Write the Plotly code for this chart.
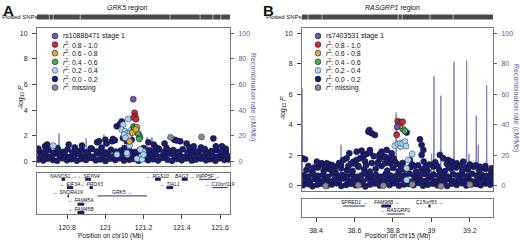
import plotly.graph_objects as go

# ---------------- DATA ----------------
# Panel A (GRK5 region, chr10, Mb) -- navy r2 0.0-0.2 SNPs
a_navy_x = [120.650, 120.676, 120.699, 120.726, 120.748, 120.777, 120.800, 120.824, 120.851, 120.874,
            120.899, 120.926, 120.950, 120.973, 121.001, 121.024, 121.052, 121.075, 121.098, 121.126,
            121.151, 121.174, 121.202, 121.224, 121.250, 121.276, 121.299, 121.326, 121.349, 121.377,
            121.400, 121.425, 121.452, 121.474, 121.500, 121.527, 121.549, 121.576, 121.600, 121.623, 121.646,
            120.662, 120.688, 120.712, 120.737, 120.763, 120.788, 120.812, 120.838, 120.862, 120.887,
            120.913, 120.937, 120.962, 120.988, 121.012, 121.037, 121.063, 121.087, 121.112, 121.138,
            121.163, 121.188, 121.212, 121.237, 121.263, 121.288, 121.313, 121.337, 121.362, 121.388,
            121.413, 121.438, 121.463, 121.487, 121.512, 121.538, 121.562, 121.588, 121.612, 121.637,
            120.652, 120.680, 120.703, 120.729, 120.755, 120.781, 120.803, 120.829, 120.855, 120.878,
            120.905, 120.930, 120.955, 120.980, 121.004, 121.030, 121.056, 121.080, 121.104, 121.130,
            121.155, 121.180, 121.205, 121.230, 121.255, 121.280, 121.305, 121.330, 121.355, 121.380,
            121.405, 121.430, 121.455, 121.480, 121.505, 121.530, 121.555, 121.580, 121.605, 121.630,
            120.650, 120.685, 120.696, 120.750, 120.809, 120.840, 120.878, 120.924, 120.957, 120.967,
            120.980, 121.000, 121.007, 121.035, 121.040, 121.050, 121.060, 121.077, 121.086, 121.092,
            121.100, 121.112, 121.138, 121.200, 121.225, 121.253, 121.265, 121.280, 121.310, 121.320,
            121.360, 121.373, 121.392, 121.425, 121.440, 121.462, 121.500, 121.520, 121.565, 121.578,
            121.610, 121.630]
a_navy_y = [0.15, 0.08, 0.22, 0.12, 0.05, 0.25, 0.10, 0.18, 0.06, 0.20,
            0.12, 0.28, 0.09, 0.16, 0.04, 0.21, 0.11, 0.26, 0.07, 0.14,
            0.19, 0.05, 0.23, 0.10, 0.17, 0.08, 0.27, 0.13, 0.06, 0.20,
            0.10, 0.24, 0.07, 0.15, 0.22, 0.09, 0.18, 0.05, 0.25, 0.12, 0.16,
            0.45, 0.52, 0.38, 0.60, 0.42, 0.55, 0.35, 0.48, 0.58, 0.40,
            0.50, 0.37, 0.62, 0.44, 0.53, 0.39, 0.57, 0.46, 0.36, 0.51,
            0.43, 0.59, 0.41, 0.49, 0.55, 0.38, 0.47, 0.60, 0.42, 0.54,
            0.36, 0.50, 0.45, 0.58, 0.40, 0.52, 0.44, 0.37, 0.56, 0.48,
            0.80, 0.72, 0.90, 0.68, 0.85, 0.75, 0.95, 0.70, 0.82, 0.88,
            0.73, 0.98, 0.78, 0.86, 0.70, 0.92, 0.76, 0.84, 0.69, 0.80,
            0.74, 0.90, 0.71, 0.87, 0.79, 0.94, 0.72, 0.83, 0.89, 0.75,
            0.96, 0.70, 0.85, 0.78, 0.91, 0.73, 0.82, 0.88, 0.76, 0.84,
            1.00, 1.19, 1.32, 1.05, 1.32, 1.10, 1.24, 1.03, 1.50, 1.58,
            1.10, 1.70, 1.40, 1.58, 1.76, 1.65, 2.74, 2.92, 3.12, 1.83,
            1.05, 1.58, 1.70, 1.05, 1.50, 1.32, 1.10, 1.00, 1.40, 1.05,
            1.70, 1.63, 1.57, 1.40, 1.10, 1.19, 1.10, 0.98, 1.80, 1.19,
            1.19, 1.00]
a_lblue_x = [121.120, 121.094, 121.086, 121.103, 121.112, 121.129, 121.138, 121.098, 121.120, 121.105,
             121.198, 121.190, 121.115, 121.061, 121.113, 121.127, 121.166, 121.192, 121.200, 121.183, 120.728]
a_lblue_y = [3.31, 2.87, 2.48, 2.35, 2.17, 2.22, 2.48, 2.09, 1.96, 1.85,
             0.80, 0.41, 0.54, 0.54, 0.67, 1.24, 0.21, 0.16, 0.54, 0.93, 1.24]
a_green_x = [121.148, 121.152, 121.176, 121.181, 121.178, 121.170]
a_green_y = [2.72, 2.60, 2.08, 1.90, 1.76, 2.20]
a_orange_x = [121.165, 121.141, 121.127, 121.160]
a_orange_y = [2.66, 2.25, 1.57, 2.50]
a_red_x = [121.153, 121.156, 121.148, 121.161]
a_red_y = [3.80, 3.55, 3.42, 3.30]
a_grey_x = [121.341, 121.503]
a_grey_y = [1.88, 1.91]
a_index_x = [121.146]
a_index_y = [4.85]
a_recomb_x = [120.643, 120.700, 120.756, 120.758, 120.760, 120.850, 120.898, 120.900, 120.902, 120.960,
              120.991, 120.993, 120.995, 121.100, 121.216, 121.218, 121.220, 121.242, 121.244, 121.246,
              121.400, 121.616, 121.618, 121.620, 121.652]
a_recomb_rate = [1, 2, 1, 22, 1, 2, 1, 18, 1, 1, 2, 21, 1, 2, 1, 19, 1, 1, 19, 1, 2, 1, 12, 1, 1]
a_snp_start = [120.643, 120.708, 120.729, 120.870, 121.340, 121.497, 121.564, 121.606]
a_snp_end = [120.705, 120.726, 120.867, 121.337, 121.494, 121.561, 121.603, 121.652]
a_gene_name = ["NANOS1", "SFXN4", "EIF3A", "PRDX3", "SNORA19", "GRK5", "FAM45A", "FAM45B",
               "RGS10", "BAG3", "INPP5F", "TIAL1", "C10orf119"]
a_gene_start = [120.772, 120.895, 120.800, 120.918, 120.803, 120.960, 120.855, 120.855,
                121.260, 121.400, 121.490, 121.320, 121.560]
a_gene_end = [120.790, 120.925, 120.832, 120.935, 120.810, 121.218, 120.890, 120.890,
              121.290, 121.430, 121.580, 121.355, 121.640]
a_gene_row = [1, 1, 2, 2, 3, 3, 4, 5, 1, 1, 1, 2, 2]
a_gene_strand = ["+", "-", "-", "-", "-", "+", "-", "-", "-", "+", "+", "-", "-"]
a_ticks = [120.8, 121.0, 121.2, 121.4, 121.6]
a_tick_text = ["120.8", "121", "121.2", "121.4", "121.6"]

# Panel B (RASGRP1 region, chr15, Mb)
b_navy_x = [38.332, 38.357, 38.381, 38.407, 38.431, 38.456, 38.482, 38.506, 38.531, 38.557,
            38.581, 38.606, 38.632, 38.656, 38.681, 38.707, 38.731, 38.756, 38.782, 38.806,
            38.831, 38.857, 38.881, 38.906, 38.932, 38.956, 38.981, 39.007, 39.031, 39.056,
            39.082, 39.106, 39.131, 39.157, 39.181, 39.206, 39.232, 39.256, 39.281, 39.306,
            38.345, 38.369, 38.394, 38.419, 38.444, 38.469, 38.494, 38.519, 38.544, 38.569,
            38.594, 38.619, 38.644, 38.669, 38.694, 38.719, 38.744, 38.769, 38.794, 38.819,
            38.844, 38.869, 38.894, 38.919, 38.944, 38.969, 38.994, 39.019, 39.044, 39.069,
            39.094, 39.119, 39.144, 39.169, 39.194, 39.219, 39.244, 39.269, 39.294, 39.316,
            38.336, 38.362, 38.386, 38.411, 38.437, 38.461, 38.486, 38.512, 38.536, 38.561,
            38.587, 38.611, 38.636, 38.662, 38.686, 38.711, 38.737, 38.761, 38.786, 38.812,
            38.836, 38.861, 38.887, 38.911, 38.936, 38.962, 38.986, 39.011, 39.037, 39.061,
            39.086, 39.112, 39.136, 39.161, 39.187, 39.211, 39.236, 39.262, 39.286, 39.311,
            38.350, 38.380, 38.410, 38.440, 38.470, 38.500, 38.530, 38.560, 38.590, 38.620,
            38.650, 38.680, 38.710, 38.740, 38.770, 38.800, 38.830, 38.860, 38.890, 38.920,
            38.950, 38.980, 39.010, 39.040, 39.070, 39.100, 39.130, 39.160, 39.190, 39.220,
            39.250, 39.280, 39.310,
            38.329, 38.343, 38.404, 38.420, 38.430, 38.440, 38.456, 38.470, 38.482, 38.499,
            38.542, 38.559, 38.568, 38.573, 38.594, 38.611, 38.611, 38.629, 38.637, 38.646,
            38.663, 38.680, 38.680, 38.672, 38.677, 38.689, 38.706, 38.741, 38.750, 38.758,
            38.767, 38.776, 38.784, 38.793, 38.802, 38.810, 38.871, 38.888, 38.900, 38.940,
            38.949, 38.958, 38.949, 38.960, 38.930, 39.044, 39.061, 39.087, 39.105, 39.131,
            39.165, 39.200, 39.252, 39.313, 39.080, 39.120, 38.720, 38.600, 38.520, 38.850,
            38.990, 39.020,
            38.360, 38.390, 38.450, 38.490, 38.530, 38.580, 38.620, 38.655, 38.690, 38.730,
            38.760, 38.790, 38.730, 38.700, 38.660, 38.820, 38.840, 38.910, 38.970, 39.030,
            39.090, 39.150, 39.180, 39.230, 39.280]
b_navy_y = [0.05, 0.12, -0.02, 0.08, 0.15, 0.02, 0.10, 0.18, 0.00, 0.07,
            0.14, 0.04, 0.11, -0.03, 0.09, 0.16, 0.03, 0.12, 0.06, 0.17,
            0.01, 0.10, 0.13, 0.05, 0.19, 0.02, 0.08, 0.15, 0.04, 0.11,
            0.00, 0.14, 0.07, 0.18, 0.03, 0.09, 0.12, 0.05, 0.16, 0.08,
            0.38, 0.30, 0.45, 0.33, 0.42, 0.28, 0.40, 0.35, 0.48, 0.31,
            0.44, 0.36, 0.30, 0.47, 0.34, 0.41, 0.29, 0.46, 0.37, 0.32,
            0.43, 0.35, 0.27, 0.45, 0.39, 0.33, 0.48, 0.30, 0.42, 0.36,
            0.44, 0.31, 0.40, 0.34, 0.47, 0.29, 0.41, 0.38, 0.32, 0.44,
            0.70, 0.62, 0.78, 0.66, 0.74, 0.60, 0.80, 0.68, 0.72, 0.64,
            0.76, 0.61, 0.70, 0.79, 0.65, 0.73, 0.60, 0.77, 0.69, 0.63,
            0.75, 0.67, 0.80, 0.62, 0.71, 0.78, 0.64, 0.74, 0.66, 0.70,
            0.61, 0.77, 0.68, 0.73, 0.63, 0.79, 0.67, 0.72, 0.65, 0.75,
            1.05, 0.95, 1.20, 1.00, 1.10, 0.92, 1.15, 1.02, 0.98, 1.25,
            1.08, 0.94, 1.12, 1.30, 1.00, 1.18, 0.96, 1.06, 1.22, 0.93,
            1.10, 1.00, 1.28, 1.04, 0.97, 1.14, 1.20, 0.95, 1.08, 1.25,
            1.02, 1.12, 0.98,
            1.81, 1.75, 1.59, 1.45, 1.48, 1.35, 1.48, 1.40, 1.37, 1.26,
            1.70, 1.81, 1.31, 2.14, 1.59, 1.70, 2.24, 1.81, 2.31, 1.96,
            2.09, 2.35, 2.18, 3.55, 3.66, 3.44, 3.33, 2.24, 1.92, 1.48,
            2.35, 1.81, 1.48, 2.14, 1.81, 1.60, 3.49, 1.70, 1.40, 3.05,
            2.68, 2.35, 2.03, 1.60, 1.35, 2.03, 1.81, 1.70, 1.59, 1.48,
            1.59, 1.40, 1.26, 1.16, 1.45, 1.35, 1.50, 1.45, 1.50, 1.50,
            1.40, 1.55,
            1.30, 1.20, 1.25, 1.15, 1.35, 1.45, 1.30, 1.60, 1.50, 1.75,
            1.90, 1.60, 2.05, 1.95, 1.35, 1.45, 1.30, 1.30, 1.25, 1.30,
            1.25, 1.30, 1.20, 1.35, 1.30]
b_lblue_x = [38.810, 38.826, 38.840, 38.838, 38.850, 38.862, 38.868, 38.900, 38.879, 38.871, 38.871]
b_lblue_y = [2.63, 2.75, 2.57, 2.80, 2.78, 2.90, 2.60, 2.09, 1.70, 1.16, 0.39]
b_green_x = [38.853, 38.862]
b_green_y = [3.70, 3.60]
b_orange_x = [38.824, 38.836]
b_orange_y = [4.24, 3.92]
b_red_x = [38.828, 38.840, 38.850, 38.819]
b_red_y = [4.18, 4.12, 4.20, 3.35]
b_grey_x = [38.450, 38.620, 38.750, 38.900, 39.050, 39.200]
b_grey_y = [0.00, 0.05, 0.02, 0.10, -0.02, 0.08]
b_index_x = [38.822]
b_index_y = [3.86]
b_recomb_x = [38.327, 38.328, 38.330, 38.450, 38.528, 38.530, 38.532, 38.700, 38.814, 38.816,
              38.818, 38.900, 38.999, 39.001, 39.003, 39.011, 39.013, 39.015, 39.047, 39.049,
              39.051, 39.115, 39.117, 39.119, 39.181, 39.183, 39.185, 39.193, 39.195, 39.197,
              39.231, 39.233, 39.235, 39.241, 39.243, 39.245, 39.285, 39.287, 39.289, 39.320]
b_recomb_rate = [64, 64, 1, 2, 1, 27, 1, 2, 1, 48,
                 1, 2, 1, 21, 1, 1, 72, 1, 1, 59,
                 1, 1, 81, 1, 1, 82, 1, 1, 21, 1,
                 1, 46, 1, 1, 27, 1, 1, 66, 1, 1]
b_snp_start = [38.327, 38.360, 38.433, 38.828, 38.849, 38.994, 39.114]
b_snp_end = [38.357, 38.430, 38.825, 38.846, 38.991, 39.111, 39.320]
b_gene_name = ["SPRED1", "FAM98B", "RASGRP1", "C15orf53"]
b_gene_start = [38.540, 38.740, 38.770, 38.985]
b_gene_end = [38.655, 38.790, 38.860, 38.995]
b_gene_row = [1, 1, 2, 1]
b_gene_strand = ["+", "+", "-", "+"]
b_ticks = [38.4, 38.6, 38.8, 39.0, 39.2]
b_tick_text = ["38.4", "38.6", "38.8", "39", "39.2"]

legend_labels = ["{idx} stage 1", "<i>r</i><sup>2</sup>: 0.8 - 1.0", "<i>r</i><sup>2</sup>: 0.6 - 0.8",
                 "<i>r</i><sup>2</sup>: 0.4 - 0.6", "<i>r</i><sup>2</sup>: 0.2 - 0.4",
                 "<i>r</i><sup>2</sup>: 0.0 - 0.2", "<i>r</i><sup>2</sup>: missing"]

# ---------------- STYLE ----------------
W, H = 520, 240
FONT = "Liberation Sans, Arial, sans-serif"
NAVY = "#1c1c6c"
PURPLE = "#7058a8"
RED = "#d42a2a"
ORANGE = "#e9a93a"
GREEN = "#46b04a"
LBLUE = "#acd6ee"
GREY = "#8a8a8a"
EDGE = "#15153a"
RECOMB = "#8080c4"
SLATE = "#5b5ba0"
BOX = "#777777"
legend_colors = [PURPLE, RED, ORANGE, GREEN, LBLUE, NAVY, GREY]


def pxx(x):
    return x / W


def pxy(y):
    return 1 - y / H


fig = go.Figure()

panels = [
    dict(key="A", xa="x", yr="y", yl="y2", xg="x3", yg="y3", xs="x4", ys="y4",
         navy=(a_navy_x, a_navy_y), lblue=(a_lblue_x, a_lblue_y), green=(a_green_x, a_green_y),
         orange=(a_orange_x, a_orange_y), red=(a_red_x, a_red_y), grey=(a_grey_x, a_grey_y),
         index=(a_index_x, a_index_y), recomb=(a_recomb_x, a_recomb_rate),
         snp=(a_snp_start, a_snp_end),
         genes=(a_gene_name, a_gene_start, a_gene_end, a_gene_row, a_gene_strand)),
    dict(key="B", xa="x5", yr="y5", yl="y6", xg="x7", yg="y7", xs="x8", ys="y8",
         navy=(b_navy_x, b_navy_y), lblue=(b_lblue_x, b_lblue_y), green=(b_green_x, b_green_y),
         orange=(b_orange_x, b_orange_y), red=(b_red_x, b_red_y), grey=(b_grey_x, b_grey_y),
         index=(b_index_x, b_index_y), recomb=(b_recomb_x, b_recomb_rate),
         snp=(b_snp_start, b_snp_end),
         genes=(b_gene_name, b_gene_start, b_gene_end, b_gene_row, b_gene_strand)),
]

for p in panels:
    rx, rr = p["recomb"]
    fig.add_trace(go.Scatter(x=rx, y=rr, mode="lines", line=dict(color=RECOMB, width=1),
                             xaxis=p["xa"], yaxis=p["yr"], hoverinfo="skip"))
    for key, col, ecol in [("navy", NAVY, EDGE), ("grey", GREY, "#444444"), ("lblue", LBLUE, "#3a4a70"),
                           ("green", GREEN, EDGE), ("orange", ORANGE, EDGE), ("red", RED, EDGE),
                           ("index", PURPLE, EDGE)]:
        xs, ys = p[key]
        fig.add_trace(go.Scatter(x=xs, y=ys, mode="markers",
                                 marker=dict(size=6, color=col, line=dict(color=ecol, width=0.6)),
                                 xaxis=p["xa"], yaxis=p["yl"], hoverinfo="skip"))
    # plotted SNP bar
    s0, s1 = p["snp"]
    bx, by = [], []
    for a, b in zip(s0, s1):
        bx += [a, b, None]
        by += [0.5, 0.5, None]
    fig.add_trace(go.Scatter(x=bx, y=by, mode="lines", line=dict(color="#4a4a4a", width=6),
                             xaxis=p["xs"], yaxis=p["ys"], hoverinfo="skip"))
    # genes
    names, gs, ge, grow, gstr = p["genes"]
    thin_x, thin_y, thick_x, thick_y = [], [], [], []
    for n, a, b, r, s in zip(names, gs, ge, grow, gstr):
        thin_x += [a, b, None]
        thin_y += [r, r, None]
        if b - a < 0.06:
            thick_x += [a, b, None]
            thick_y += [r, r, None]
        txt = f"<i>{n}</i> →" if s == "+" else f"← <i>{n}</i>"
        fig.add_annotation(x=(a + b) / 2, y=r - 0.45, xref=p["xg"], yref=p["yg"], text=txt,
                           showarrow=False, font=dict(size=5, family=FONT, color="#111111"),
                           xanchor="center", yanchor="middle")
    fig.add_trace(go.Scatter(x=thin_x, y=thin_y, mode="lines", line=dict(color="#2a2a7a", width=1),
                             xaxis=p["xg"], yaxis=p["yg"], hoverinfo="skip"))
    fig.add_trace(go.Scatter(x=thick_x, y=thick_y, mode="lines", line=dict(color="#1c1c6c", width=3),
                             xaxis=p["xg"], yaxis=p["yg"], hoverinfo="skip"))

# ---------------- LAYOUT ----------------
ax_common = dict(showgrid=False, zeroline=False)
A_x = [pxx(37), pxx(230)]
B_x = [pxx(302), pxx(493)]
A_main = [pxy(166), pxy(28)]
B_main = [pxy(191), pxy(28)]
A_gene = [pxy(214), pxy(173)]
B_gene = [pxy(217), pxy(199)]
snp_dom = [pxy(19.5), pxy(14.5)]

tickfont = dict(size=7, family=FONT, color="#222222")
slatefont = dict(size=7, family=FONT, color=SLATE)


def main_axes(xdom, ydom, xr, yl_range, yr_range, xa, ya_r, ya_l):
    xname = "xaxis" if xa == "x" else "xaxis" + xa[1:]
    rname = "yaxis" if ya_r == "y" else "yaxis" + ya_r[1:]
    lname = "yaxis" + ya_l[1:]
    return {
        xname: dict(domain=xdom, range=xr, anchor=ya_r, showticklabels=False, ticks="",
                    showline=True, mirror=True, linecolor=BOX, linewidth=1, **ax_common),
        rname: dict(domain=ydom, range=yr_range, anchor=xa, side="right",
                    tickvals=[0, 20, 40, 60, 80, 100], ticks="outside", ticklen=3, tickcolor=SLATE,
                    tickfont=slatefont, ticklabelstandoff=3, showline=True, linecolor=BOX, linewidth=1,
                    **ax_common),
        lname: dict(range=yl_range, overlaying=ya_r, anchor=xa, side="left",
                    tickvals=[0, 2, 4, 6, 8, 10], ticks="outside", ticklen=4, tickcolor="#444444",
                    tickfont=tickfont, ticklabelstandoff=3, showline=True, linecolor=BOX, linewidth=1,
                    **ax_common),
    }


layout = dict(width=W, height=H, margin=dict(l=0, r=0, t=0, b=0), showlegend=False,
              paper_bgcolor="white", plot_bgcolor="white")
layout.update(main_axes(A_x, A_main, [120.643, 121.652], [-0.35, 10.4], [-3.5, 104], "x", "y", "y2"))
layout.update(main_axes(B_x, B_main, [38.327, 39.320], [-0.33, 10.33], [-3.3, 103.3], "x5", "y5", "y6"))

for xn, yn, xdom, ydom, xr, yr, tv, tt in [
        ("xaxis3", "yaxis3", A_x, A_gene, [120.643, 121.652], [5.18, 0.24], a_ticks, a_tick_text),
        ("xaxis7", "yaxis7", B_x, B_gene, [38.327, 39.320], [2.375, 0.125], b_ticks, b_tick_text)]:
    layout[xn] = dict(domain=xdom, range=xr, anchor="y" + yn[5:], tickvals=tv, ticktext=tt,
                      ticks="outside", ticklen=4, tickcolor="#444444", tickfont=tickfont,
                      ticklabelstandoff=3, showline=True, mirror=True, linecolor=BOX, linewidth=1,
                      **ax_common)
    layout[yn] = dict(domain=ydom, range=yr, anchor="x" + xn[5:], showticklabels=False, ticks="",
                      showline=True, mirror=True, linecolor=BOX, linewidth=1, **ax_common)

for xn, yn, xdom, xr in [("xaxis4", "yaxis4", A_x, [120.643, 121.652]),
                         ("xaxis8", "yaxis8", B_x, [38.327, 39.320])]:
    layout[xn] = dict(domain=xdom, range=xr, anchor="y" + yn[5:], visible=False)
    layout[yn] = dict(domain=snp_dom, range=[0, 1], anchor="x" + xn[5:], visible=False)

fig.update_layout(**layout)

# ---------------- TEXT ----------------
def ann(x, y, text, size=7, color="#111111", xanchor="center", yanchor="middle", angle=0):
    fig.add_annotation(x=pxx(x), y=pxy(y), xref="paper", yref="paper", text=text, showarrow=False,
                       font=dict(size=size, family=FONT, color=color), xanchor=xanchor, yanchor=yanchor,
                       textangle=angle)


ann(1, 0, "<b>A</b>", size=15, xanchor="left", yanchor="top")
ann(261, 0, "<b>B</b>", size=15, xanchor="left", yanchor="top")
ann(127, 8, "<i>GRK5</i> region", size=7)
ann(392, 8, "<i>RASGRP1</i> region", size=7)
ann(0, 17, "Plotted SNPs", size=6, xanchor="left")
ann(264, 17, "Plotted SNPs", size=6, xanchor="left")
ann(21, 97, "-log<sub>10</sub> <i>P</i>", size=7, angle=-90)
ann(283, 108, "-log<sub>10</sub> <i>P</i>", size=7, angle=-90)
ann(253, 97, "Recombination rate (cM/Mb)", size=7, color=SLATE, angle=90)
ann(516, 108, "Recombination rate (cM/Mb)", size=7, color=SLATE, angle=90)
ann(110, 236, "Position on chr10 (Mb)", size=6.5)
ann(397, 236, "Position on chr15 (Mb)", size=6.5)

legend_y = [36, 44.6, 53.2, 61.8, 70.4, 79.0, 87.6]
for mx, tx, idx in [(55, 60.5, "rs10886471"), (318, 323.5, "rs7403531")]:
    for ly, lab, col in zip(legend_y, legend_labels, legend_colors):
        fig.add_shape(type="circle", xref="paper", yref="paper", xsizemode="pixel", ysizemode="pixel",
                      xanchor=pxx(mx), yanchor=pxy(ly), x0=-2.9, x1=2.9, y0=-2.9, y1=2.9,
                      fillcolor=col, line=dict(color=EDGE if col != LBLUE else "#3a4a70", width=0.6))
        ann(tx, ly, lab.replace("{idx}", idx), size=7, xanchor="left")

fig.write_html("out.html", config={"displayModeBar": False},
               post_script="document.body.style.margin='0px';document.body.style.overflow='hidden';")
